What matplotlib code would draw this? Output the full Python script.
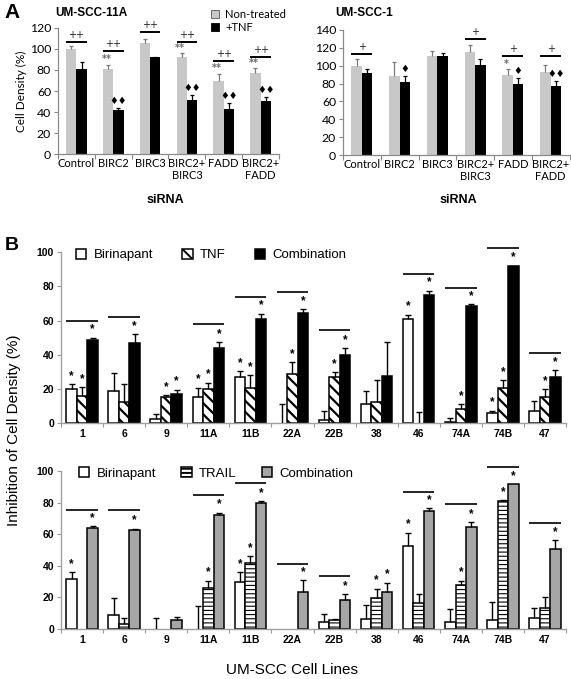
import matplotlib
matplotlib.use('Agg')
import matplotlib.pyplot as plt
import numpy as np
from matplotlib.patches import Patch

# ---------------- data ----------------
sirna = ['Control', 'BIRC2', 'BIRC3', 'BIRC2+\nBIRC3', 'FADD', 'BIRC2+\nFADD']

# UM-SCC-11A
a11_nt = [100, 80.5, 105.8, 92.2, 69.5, 77.4]
a11_nt_sd = [2.3, 4.1, 3.2, 3.5, 6.6, 4.1]
a11_tnf = [80.5, 42, 91.9, 51.5, 43.3, 50.2]
a11_tnf_sd = [7.0, 1.9, 0.6, 4.4, 5.7, 4.4]
a11_line = [106.7, 97.6, 115.6, 106.7, 88.4, 91.9]
a11_line_mark = ['++', '++', '++', '++', '++', '++']
a11_nt_mark = ['', '**', '', '**', '**', '**']
a11_tnf_mark = ['', '\u2666\u2666', '', '\u2666\u2666', '\u2666\u2666', '\u2666\u2666']

# UM-SCC-1
a1_nt = [100, 88.8, 111.2, 115.3, 89.6, 92.9]
a1_nt_sd = [7.8, 15.2, 4.8, 7.7, 6.3, 7.8]
a1_tnf = [91.4, 82.1, 111.2, 100.7, 79.1, 77.2]
a1_tnf_sd = [4.9, 6.3, 3.3, 6.3, 6.7, 6.0]
a1_line = [113.4, np.nan, np.nan, 129.9, 110.8, 110.8]
a1_line_mark = ['+', '', '', '+', '+', '+']
a1_nt_mark = ['', '', '', '', '*', '']
a1_tnf_mark = ['', '\u2666', '', '', '\u2666', '\u2666\u2666']

# Panel B
cell_lines = ['1', '6', '9', '11A', '11B', '22A', '22B', '38', '46', '74A', '74B', '47']

b1_bir = [20.2, 18.6, 2.5, 15.5, 27, 0, 1.7, 11, 60.8, 0.6, 6, 7]
b1_bir_sd = [2.5, 10.9, 2.7, 5.3, 3.5, 11, 5.3, 7.8, 2.7, 2.3, 1.4, 6.2]
b1_tnf = [16.1, 12.2, 15.5, 20.2, 20.4, 28.5, 26.8, 12.6, 0, 8.5, 20.6, 15.5]
b1_tnf_sd = [5.1, 10.5, 0.8, 3.5, 7.9, 7.0, 2.9, 12.6, 6.4, 2.5, 4.6, 4.5]
b1_comb = [48.7, 47, 17.1, 43.9, 60.6, 64.5, 39.6, 27.8, 75, 68.7, 91.7, 27.2]
b1_comb_sd = [1.3, 5.2, 2.5, 3.7, 3.4, 2.1, 4.1, 19.8, 2.5, 1.0, 0.3, 3.7]
b1_line = [60, 62.3, np.nan, 57.9, 74, 76.7, 54.4, np.nan, 87.4, 79.2, 102.5, 40.8]
b1_star_bir = [1, 0, 0, 1, 1, 0, 0, 0, 1, 0, 1, 0]
b1_star_tnf = [1, 0, 1, 1, 1, 1, 1, 0, 0, 1, 1, 1]
b1_star_comb = [1, 1, 1, 1, 1, 1, 1, 0, 1, 1, 1, 1]

b2_bir = [31.6, 8.9, 0, 0, 30, 0, 4.4, 6.1, 52.3, 4.4, 5.7, 6.8]
b2_bir_sd = [4.3, 10.5, 6.8, 14.8, 5.9, 0, 4.9, 9.3, 8.7, 8.0, 11.2, 6.2]
b2_trail = [0, 3, 0, 26, 41.6, 0, 5.5, 19.8, 16.7, 27.6, 80.8, 13]
b2_trail_sd = [0, 3.8, 0, 4.6, 4.6, 0, 1.0, 5.7, 5.2, 3.0, 0.8, 7.5]
b2_comb = [64.1, 62.4, 5.5, 72, 79.7, 23.2, 18.6, 23.6, 74.9, 64.8, 91.8, 50.6]
b2_comb_sd = [1.1, 1.1, 2.3, 1.6, 1.1, 7.8, 3.6, 5.7, 1.5, 2.7, 0, 5.7]
b2_line = [75.3, 75.1, np.nan, 84.8, 92.2, 41, 33.3, np.nan, 86.9, 78.9, 102.3, 66.9]
b2_star_bir = [1, 0, 0, 0, 1, 0, 0, 0, 1, 0, 0, 0]
b2_star_trail = [0, 0, 0, 1, 1, 0, 0, 1, 0, 1, 1, 0]
b2_star_comb = [1, 1, 0, 1, 1, 1, 1, 1, 1, 1, 1, 1]

# ---------------- figure ----------------
W, H = 571, 679
plt.rcParams['hatch.linewidth'] = 1.4
fig = plt.figure(figsize=(W / 100, H / 100), dpi=100)

ARIAL = 'Liberation Sans'
CAL = 'Lato'
DIA = ['DejaVu Sans']


def rect(x0, x1, ytop, ybot):
    return [x0 / W, 1 - ybot / H, (x1 - x0) / W, (ybot - ytop) / H]


def err_up(ax, x, vals, sd, color, lw, cap):
    x = np.asarray(x, float)
    vals = np.asarray(vals, float)
    sd = np.asarray(sd, float)
    m = sd > 0
    ax.vlines(x[m], vals[m], vals[m] + sd[m], color=color, lw=lw, zorder=3)
    ax.plot(x[m], vals[m] + sd[m], ls='none', marker='_', ms=cap, mew=lw, color=color, zorder=3)


def panel_a(ax, nt, nt_sd, tnf, tnf_sd, ymax, line_y, line_mark, nt_mark, tnf_mark):
    n = len(sirna)
    x = np.arange(n)
    w = 0.28
    ax.bar(x - w / 2, nt, w, color='#c8c8c8', zorder=2)
    ax.bar(x + w / 2, tnf, w, color='black', zorder=2)
    err_up(ax, x - w / 2, nt, nt_sd, '#7a7a7a', 0.9, 3.5)
    err_up(ax, x + w / 2, tnf, tnf_sd, 'black', 0.9, 3.5)
    for i in range(n):
        if not np.isnan(line_y[i]):
            ax.hlines(line_y[i], x[i] - w, x[i] + w, color='black', lw=1.4, clip_on=False)
            ax.annotate(line_mark[i], (x[i], line_y[i]), xytext=(0, 1.5), textcoords='offset points',
                        ha='center', va='bottom', fontsize=7, family=DIA, color='#222222')
        if nt_mark[i]:
            ax.annotate(nt_mark[i], (x[i] - w / 2 - 0.04, nt[i] + nt_sd[i]), xytext=(0, 0.5),
                        textcoords='offset points', ha='center', va='bottom', fontsize=7,
                        family=DIA, color='#6a6a6a', fontweight='bold')
        if tnf_mark[i]:
            ax.annotate(tnf_mark[i], (x[i] + w / 2, tnf[i] + tnf_sd[i]), xytext=(0, 1.5),
                        textcoords='offset points', ha='center', va='bottom', fontsize=7,
                        family=DIA, color='black')
    ax.set_xlim(-0.5, n - 0.5)
    ax.set_ylim(0, ymax)
    ax.set_yticks(np.arange(0, ymax + 1, 20))
    ax.set_xticks(x)
    ax.set_xticklabels(sirna, fontsize=8, family=CAL, linespacing=1.05)
    ax.set_xticks(np.arange(-0.5, n, 1), minor=True)
    ax.tick_params(axis='x', which='major', length=0, pad=3)
    ax.tick_params(axis='x', which='minor', length=3.5, color='#888888', width=0.8)
    ax.tick_params(axis='y', length=3, color='#888888', width=0.8, labelsize=8.8, pad=2)
    for lab in ax.get_yticklabels():
        lab.set_family(CAL)
    for s in ['top', 'right']:
        ax.spines[s].set_visible(False)
    for s in ['left', 'bottom']:
        ax.spines[s].set_color('#8a8a8a')
        ax.spines[s].set_linewidth(0.9)


axA1 = fig.add_axes(rect(58, 279, 27.7, 154.3))
panel_a(axA1, a11_nt, a11_nt_sd, a11_tnf, a11_tnf_sd, 120, a11_line, a11_line_mark, a11_nt_mark, a11_tnf_mark)
axA1.set_ylabel('Cell Density (%)', fontsize=8.5, family=CAL, labelpad=2)

axA2 = fig.add_axes(rect(343, 569.5, 30, 155))
panel_a(axA2, a1_nt, a1_nt_sd, a1_tnf, a1_tnf_sd, 140, a1_line, a1_line_mark, a1_nt_mark, a1_tnf_mark)

leg_a = axA1.legend(handles=[Patch(facecolor='#c8c8c8', edgecolor='#555555', lw=0.6),
                             Patch(facecolor='black', edgecolor='black', lw=0.6)],
                    labels=['Non-treated', '+TNF'], loc='upper left',
                    bbox_to_anchor=(211 / W, 1 - 9 / H), bbox_transform=fig.transFigure,
                    frameon=False, handlelength=0.7, handleheight=0.7,
                    handletextpad=0.6, labelspacing=0.2, borderpad=0, borderaxespad=0,
                    prop={'family': CAL, 'size': 8})

fig.text(12 / W, 1 - 12 / H, 'A', fontsize=15, fontweight='bold', family=ARIAL, ha='center', va='center')
fig.text(55 / W, 1 - 13 / H, 'UM-SCC-11A', fontsize=8.5, fontweight='bold', family=ARIAL, ha='left', va='center')
fig.text(335 / W, 1 - 13 / H, 'UM-SCC-1', fontsize=8.5, fontweight='bold', family=ARIAL, ha='left', va='center')
fig.text(165 / W, 1 - 200 / H, 'siRNA', fontsize=9, fontweight='bold', family=ARIAL, ha='center', va='center')
fig.text(458 / W, 1 - 200 / H, 'siRNA', fontsize=9, fontweight='bold', family=ARIAL, ha='center', va='center')


# ---------------- panel B ----------------
def panel_b(ax, series, sds, stars, line_y, styles, labels, leg_anchor, colspace):
    n = len(cell_lines)
    x = np.arange(n)
    w = 0.25
    offs = [-w, 0, w]
    handles = []
    for k in range(3):
        vals = np.asarray(series[k], float)
        ec = ['black' if v > 0 else 'none' for v in vals]
        st = styles[k]
        with plt.rc_context({'hatch.linewidth': st.get('hlw', 1.4)}):
            ax.bar(x + offs[k], vals, w, facecolor=st['fc'], edgecolor=ec, linewidth=1.1,
                   hatch=st['hatch'], zorder=2)
            handles.append(Patch(facecolor=st['fc'], edgecolor='black', lw=1.1, hatch=st['hatch']))
        err_up(ax, x + offs[k], vals, sds[k], 'black', 1.0, 5)
        for i in range(n):
            if stars[k][i]:
                ax.annotate('*', (x[i] + offs[k], vals[i] + sds[k][i]), xytext=(0, 1.5),
                            textcoords='offset points', ha='center', va='bottom',
                            fontsize=8.5, fontweight='bold', family=ARIAL, annotation_clip=False)
    for i in range(n):
        if not np.isnan(line_y[i]):
            ax.hlines(line_y[i], x[i] - 0.375, x[i] + 0.375, color='black', lw=1.2, clip_on=False)
    ax.set_xlim(-0.5, n - 0.5)
    ax.set_ylim(0, 100)
    ax.set_yticks(np.arange(0, 101, 20))
    ax.set_xticks(x)
    ax.set_xticklabels(cell_lines, fontsize=7.5, fontweight='bold', family=ARIAL)
    ax.set_xticks(np.arange(-0.5, n, 1), minor=True)
    ax.tick_params(axis='x', which='major', length=0, pad=4)
    ax.tick_params(axis='x', which='minor', length=3, color='#9a9a9a', width=0.8)
    ax.tick_params(axis='y', length=3, color='#9a9a9a', width=0.8, labelsize=7.5, pad=2)
    for lab in ax.get_yticklabels():
        lab.set_family(ARIAL)
        lab.set_fontweight('bold')
    for s in ['top', 'right']:
        ax.spines[s].set_visible(False)
    for s in ['left', 'bottom']:
        ax.spines[s].set_color('#a0a0a0')
        ax.spines[s].set_linewidth(1.0)
    ax.legend(handles=handles, labels=labels, loc='center left', bbox_to_anchor=leg_anchor,
              ncol=3, frameon=False, handlelength=0.8, handleheight=0.8, handletextpad=0.55,
              columnspacing=colspace, borderpad=0, borderaxespad=0,
              prop={'family': ARIAL, 'size': 9.5})


axB1 = fig.add_axes(rect(61, 566, 252, 423.3))
panel_b(axB1, [b1_bir, b1_tnf, b1_comb], [b1_bir_sd, b1_tnf_sd, b1_comb_sd],
        [b1_star_bir, b1_star_tnf, b1_star_comb], b1_line,
        [{'fc': 'white', 'hatch': None}, {'fc': 'white', 'hatch': '\\\\\\', 'hlw': 1.6},
         {'fc': 'black', 'hatch': None}],
        ['Birinapant', 'TNF', 'Combination'], (0.029, 0.982), 2.2)

axB2 = fig.add_axes(rect(61, 566, 471, 629))
panel_b(axB2, [b2_bir, b2_trail, b2_comb], [b2_bir_sd, b2_trail_sd, b2_comb_sd],
        [b2_star_bir, b2_star_trail, b2_star_comb], b2_line,
        [{'fc': 'white', 'hatch': None}, {'fc': 'white', 'hatch': '----', 'hlw': 0.8},
         {'fc': '#a6a6a6', 'hatch': None}],
        ['Birinapant', 'TRAIL', 'Combination'], (0.035, 0.985), 1.9)

fig.text(12 / W, 1 - 245 / H, 'B', fontsize=14, fontweight='bold', family=ARIAL, ha='center', va='center')
fig.text(14 / W, 1 - 430 / H, 'Inhibition of Cell Density (%)', fontsize=11, family=ARIAL,
         rotation=90, ha='center', va='center')
fig.text(292 / W, 1 - 670 / H, 'UM-SCC Cell Lines', fontsize=11, family=ARIAL, ha='center', va='center')

fig.savefig('out.png', dpi=100)
